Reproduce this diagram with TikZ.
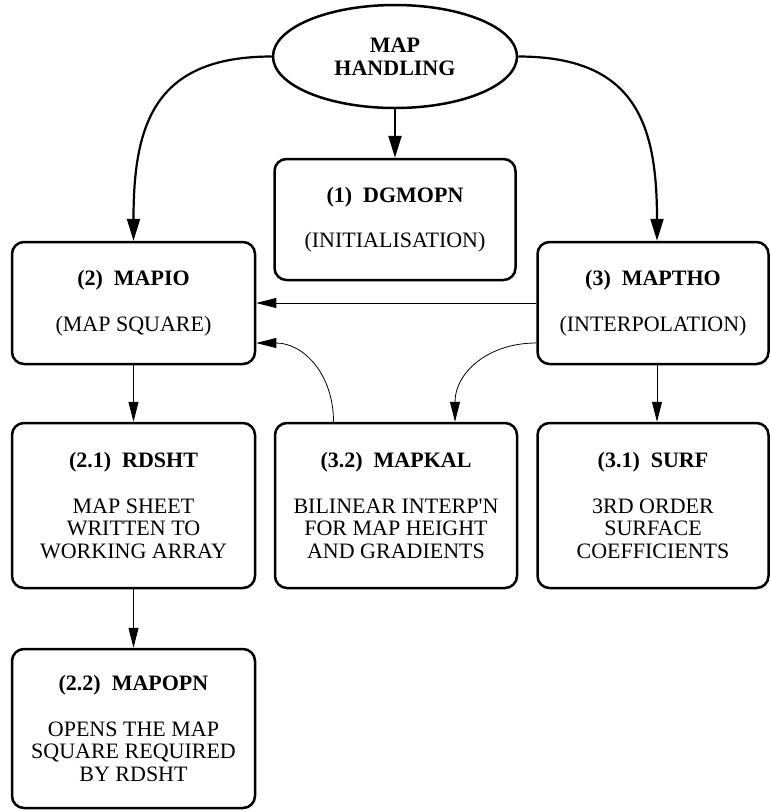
\documentclass[tikz,border=0pt]{standalone}
\usepackage{fontspec}
\setmainfont{Liberation Serif}
\usetikzlibrary{arrows.meta,shapes.geometric}

\begin{document}
\begin{tikzpicture}[>={Triangle[length=20pt,width=10pt]},
  font=\fontsize{22}{22.5}\selectfont,
  box/.style={draw, rounded corners=12pt, line width=2.5pt, align=center, inner sep=0pt},
  hub/.style={draw, ellipse, line width=2.5pt, align=center, inner sep=0pt,
    minimum width=244pt, minimum height=103pt, font=\fontsize{22}{23}\selectfont\bfseries},
  call/.style={->, line width=0.8pt},
  main/.style={-{Triangle[length=22pt,width=13pt]}, line width=2.2pt}]
\useasboundingbox (0,0) rectangle (770pt,-812pt);
\node[hub] (hand) at (395pt,-56.5pt) {MAP\\HANDLING};
\node[box,below of=hand,node distance=163pt,minimum width=241pt,minimum height=121pt] (dgmopn)
  {\textbf{(1)~~DGMOPN}\\[23pt](INITIALISATION)};
\node[box,minimum width=243pt,minimum height=122pt] (mapio) at (133.5pt,-303pt)
  {\textbf{(2)~~MAPIO}\\[23pt](MAP SQUARE)};
\node[box,right of=mapio,node distance=519.5pt,minimum width=231pt,minimum height=122pt] (maptho)
  {\textbf{(3)~~MAPTHO}\\[23pt](INTERPOLATION)};
\node[box,below of=mapio,node distance=202.5pt,minimum width=243pt,minimum height=165pt] (rdsht)
  {\textbf{(2.1)~~RDSHT}\\[23pt]MAP SHEET\\WRITTEN TO\\WORKING ARRAY};
\node[box,right of=rdsht,node distance=262.5pt,minimum width=242pt,minimum height=165pt] (mapkal)
  {\textbf{(3.2)~~MAPKAL}\\[23pt]BILINEAR INTERP\textquotesingle N\\FOR MAP HEIGHT\\AND GRADIENTS};
\node[box,right of=rdsht,node distance=519.5pt,minimum width=231pt,minimum height=165pt] (surf)
  {\textbf{(3.1)~~SURF}\\[23pt]3RD ORDER\\SURFACE\\COEFFICIENTS};
\node[box,below of=rdsht,node distance=223pt,minimum width=243pt,minimum height=159pt] (mapopn)
  {\textbf{(2.2)~~MAPOPN}\\[23pt]OPENS THE MAP\\SQUARE REQUIRED\\BY RDSHT};
% top level calls
\draw[main] (hand.west) to[out=180,in=90,looseness=1.3] (mapio.north);
\draw[main] (hand.east) to[out=0,in=90,looseness=1.3] ([xshift=4pt]maptho.north);
\draw[main] (hand.south) -- (dgmopn.north);
% lower level calls
\draw[call] (maptho.west) -- (mapio.east);
\draw[call] ([xshift=-62.5pt]mapkal.north) to[out=90,in=0,looseness=1.1] ([yshift=-40pt]mapio.east);
\draw[call] ([yshift=-40pt]maptho.west) to[out=180,in=90,looseness=1.1] ([xshift=59pt]mapkal.north);
\draw[call] (mapio.south) -- (rdsht.north);
\draw[call] ([xshift=4pt]maptho.south) -- ([xshift=4pt]surf.north);
\draw[call] (rdsht.south) -- (mapopn.north);
\end{tikzpicture}
\end{document}
